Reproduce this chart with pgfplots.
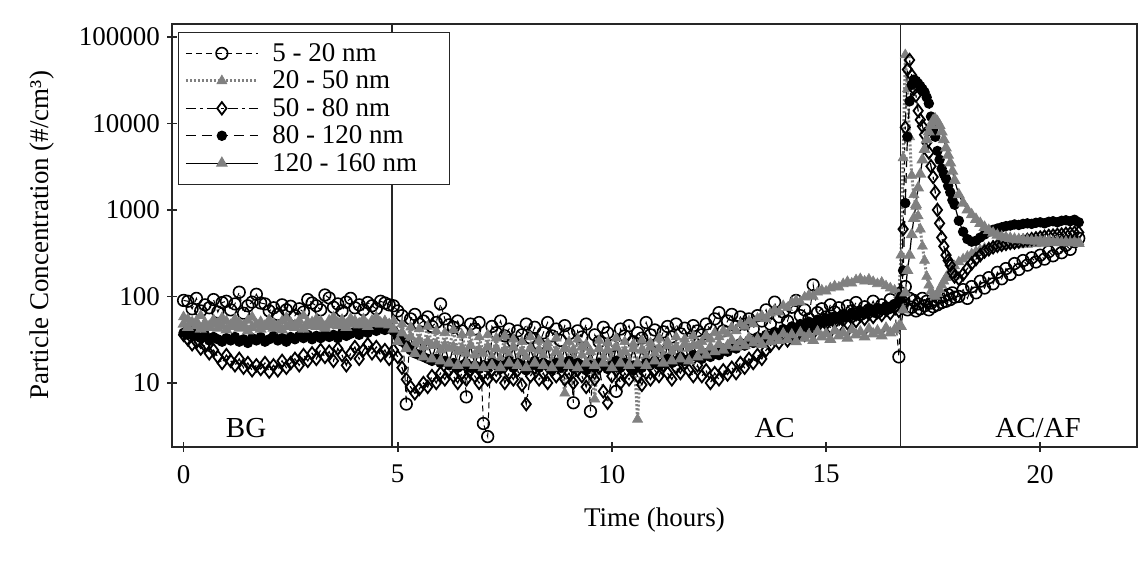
\documentclass[border=0pt]{standalone}
\usepackage{fontspec}
\setmainfont{Liberation Serif}
\usepackage{pgfplots}
\usepackage{pgfplotstable}
\pgfplotsset{compat=1.18}
\definecolor{midgray}{RGB}{128,128,128}

% t = time (h); a..e = size bins 5-20, 20-50, 50-80, 80-120, 120-160 nm
\pgfplotstableread{
t a b c d e
0.0 90 58 36 38 48
0.1 88 55 32 36 44
0.2 72 48 28 39 50
0.3 95 52 30 35 46
0.4 68 60 25 33 42
0.5 80 50 27 36 47
0.6 74 46 22 31 44
0.7 92 54 24 34 49
0.8 66 49 20 32 43
0.9 85 57 17 30 46
1.0 88 52 21 33 41
1.1 70 47 18 31 45
1.2 82 55 16 34 48
1.3 112 50 19 30 43
1.4 64 44 15 32 46
1.5 78 53 17 29 40
1.6 86 58 14 33 44
1.7 106 48 16 31 47
1.8 84 51 14.5 34 42
1.9 82 46 17 30 45
2.0 68 54 13.5 32 48
2.1 74 49 16 35 43
2.2 62 44 14 31 46
2.3 80 52 18 33 41
2.4 70 57 15 30 45
2.5 77 50 17 34 49
2.6 60 47 19 32 44
2.7 72 53 16 35 47
2.8 66 60 21 33 42
2.9 92 51 18 36 46
3.0 84 48 22 32 50
3.1 78 55 19 35 45
3.2 70 52 24 33 48
3.3 104 45 20 37 43
3.4 96 53 23 34 47
3.5 75 58 18 36 51
3.6 82 50 25 33 46
3.7 68 54 21 38 49
3.8 86 48 16 35 44
3.9 95 56 22 37 48
4.0 74 51 26 39 52
4.1 80 49 19 36 47
4.2 70 55 24 40 50
4.3 85 47 28 38 45
4.4 78 53 22 42 49
4.5 72 58 26 40 53
4.6 88 50 21 43 48
4.7 84 52 24 41 51
4.8 80 48 19 44 47
4.9 78 52 24 40 42
5.0 68 36 20 34 30
5.1 60 48 15 30 38
5.2 5.7 30 11 27 25
5.3 55 44 9 24 34
5.4 62 28 7.6 22 22
5.5 48 42 8.5 21 31
5.6 52 26 10 20 20
5.7 58 45 9 19 30
5.8 45 27 12 18 19
5.9 50 40 10 19 28
6.0 82 24 13 17 18
6.1 55 38 11 18 27
6.2 47 25 14 16 17
6.3 44 41 12 17 26
6.4 52 23 10 15 16
6.5 40 36 13 16 25
6.6 6.9 22 11 17 17
6.7 48 38 14 15 27
6.8 42 21 12 16 16
6.9 50 34 10 14.5 24
7.0 3.4 22 13 16 15
7.1 2.4 36 11 15 26
7.2 45 20 14 17 16
7.3 38 33 12 16 25
7.4 52 19 15 14.5 15
7.5 35 35 10 16 24
7.6 42 21 13 18 17
7.7 30 32 11 15 26
7.8 40 18 14 17 16
7.9 36 30 9.5 16 23
8.0 48 20 5.7 14 15
8.1 33 34 12 16 25
8.2 44 19 15 18 17
8.3 28 31 11 15 24
8.4 38 21 13 17 16
8.5 50 29 10 16 26
8.6 35 18 14 14.5 15
8.7 42 33 12 17 23
8.8 31 20 16 15 17
8.9 46 7.6 11 16 25
9.0 37 30 13 18 16
9.1 5.9 19 10 15 24
9.2 40 32 14 17 15
9.3 34 21 12 16 26
9.4 48 28 9 14 17
9.5 4.7 18 13 16 23
9.6 36 6.5 11 15 16
9.7 30 31 15 17 25
9.8 44 20 8 16 17
9.9 38 29 5.9 14.5 24
10.0 27 19 12 16 15
10.1 8 33 14 18 26
10.2 42 21 10 15 17
10.3 35 30 13 17 23
10.4 46 18 11 16 16
10.5 30 28 15 14 25
10.6 38 3.8 12 16 17
10.7 33 31 9.5 15 24
10.8 50 20 13 17 16
10.9 36 29 11 16 26
11.0 41 22 14 18 18
11.1 29 33 12 16 25
11.2 39 21 16 17 17
11.3 45 30 13 19 27
11.4 34 23 11 17 18
11.5 48 34 15 18 26
11.6 37 22 13 20 19
11.7 43 32 17 18 28
11.8 32 25 14 19 18
11.9 46 35 12 21 27
12.0 40 27 16 20 20
12.1 36 30 12 19 24
12.2 48 35 14 22 21
12.3 42 32 10 20 26
12.4 55 38 13 23 23
12.5 65 34 11 21 28
12.6 40 40 14 25 24
12.7 52 37 12.5 23 27
12.8 62 44 15 27 31
12.9 45 40 13 25 26
13.0 58 48 17 29 30
13.1 48 45 15 27 27
13.2 55 52 19 31 33
13.3 42 48 17 29 29
13.4 60 56 21 34 32
13.5 52 60 19 31 28
13.6 70 55 24 36 35
13.7 48 64 27 34 30
13.8 86 70 32 39 34
13.9 58 66 29 36 31
14.0 66 78 35 42 37
14.1 52 74 31 39 32
14.2 75 85 37 45 36
14.3 90 90 34 42 30
14.4 60 86 40 48 38
14.5 70 98 36 45 33
14.6 55 104 42 51 36
14.7 136 100 38 47 31
14.8 65 112 45 54 39
14.9 72 118 41 50 34
15.0 58 115 48 56 37
15.1 80 125 44 52 32
15.2 66 132 50 59 40
15.3 74 128 46 55 35
15.4 60 140 53 62 38
15.5 78 148 49 58 33
15.6 68 142 56 65 41
15.7 85 155 52 60 36
15.8 62 160 60 68 39
15.9 76 150 55 63 34
16.0 70 158 63 71 42
16.1 88 148 58 66 37
16.2 66 140 66 74 40
16.3 80 145 61 69 35
16.4 72 132 70 77 43
16.5 92 125 64 72 38
16.6 78 118 74 82 41
16.7 20 105 68 90 45
16.75 110 300 90 100 45
16.8 85 4000 600 200 70
16.85 130 62000 9000 1200 110
16.9 70 25000 42000 7000 200
16.95 95 7000 54000 18000 300
17.0 75 2500 36000 28000 520
17.05 90 1500 25000 32000 800
17.1 68 1100 21000 31000 1150
17.15 82 850 14000 29000 1800
17.2 72 600 11000 27000 2600
17.25 95 380 9300 25000 3800
17.3 78 260 7400 23000 5000
17.35 88 170 6000 20000 6500
17.4 70 135 4600 17000 8000
17.45 84 115 3200 12000 9500
17.5 76 105 2400 8500 10800
17.55 92 100 1600 7000 11200
17.6 80 108 1000 4800 10500
17.65 98 120 700 3800 9500
17.7 85 135 480 3000 8000
17.75 100 150 380 2600 6500
17.8 88 165 300 2300 5200
17.85 105 180 260 1900 4300
17.9 92 195 230 1600 3500
17.95 110 210 190 1300 2800
18.0 98 225 170 1150 2200
18.1 100 250 160 750 1500
18.2 120 270 180 560 1200
18.3 95 290 210 460 1000
18.4 130 310 240 430 880
18.5 110 330 270 440 780
18.6 150 345 300 480 700
18.7 125 360 330 520 630
18.8 165 370 350 560 580
18.9 140 380 370 590 540
19.0 190 390 385 610 510
19.1 160 380 395 630 490
19.2 210 400 405 650 480
19.3 180 390 415 660 470
19.4 240 410 420 680 460
19.5 205 395 430 670 455
19.6 260 420 440 690 450
19.7 230 400 450 700 445
19.8 280 425 460 690 440
19.9 250 405 470 710 435
20.0 300 430 480 720 440
20.1 270 410 490 700 430
20.2 330 440 500 730 435
20.3 295 415 505 740 425
20.4 360 445 515 720 430
20.5 320 420 520 750 420
20.6 390 450 530 760 425
20.7 350 425 535 740 415
20.8 430 455 545 770 420
20.9 470 430 550 720 410
}\conc

\begin{document}
\begin{tikzpicture}
\useasboundingbox (0,0) rectangle (572.5pt,290.5pt);
\begin{axis}[
    at={(86pt,67pt)}, anchor=south west,
    scale only axis,
    width=482.5pt, height=211.5pt,
    ymode=log,
    xmin=-0.27, xmax=22.26,
    ymin=1.82, ymax=141000,
    xtick={0,5,10,15,20},
    ytick={10,100,1000,10000,100000},
    yticklabels={10,100,1000,10000,100000},
    yminorticks=false,
    tick pos=left,
    tick align=center,
    major tick length=5pt,
    axis line style={black!85, line width=1pt},
    every tick/.style={black!85, line width=0.8pt},
    tick label style={font=\fontsize{13.5}{14}\selectfont},
    xticklabel style={yshift=-3pt},
    /pgf/number format/assume math mode=true,
    xlabel={Time (hours)},
    ylabel={Particle Concentration (\#/cm³)},
    label style={font=\fontsize{13.5}{14}\selectfont},
    xlabel style={at={(axis description cs:0.5,-0.1726)}, anchor=center},
    ylabel style={at={(axis description cs:-0.1347,0.5)}, anchor=center},
    legend style={at={(axis description cs:0.0062,0.981)}, anchor=north west,
        draw=black!85, font=\fontsize{13.5}{14}\selectfont,
        inner xsep=3pt, inner ysep=4pt, row sep=0.75pt, column sep=5pt,
        nodes={inner sep=1.5pt, text depth=0.1em}, cells={anchor=west}},
    legend image code/.code={\draw[mark repeat=2,mark phase=2] plot coordinates {(0pt,0pt) (18pt,0pt) (36pt,0pt)};},
]
\addplot[black, line width=0.5pt, dash pattern=on 3pt off 2pt, mark=o, mark size=2.9pt,
    mark options={solid, line width=0.8pt}] table[x=t, y=a] {\conc};
\addlegendentry{\makebox[84pt][l]{5 - 20 nm}}
\addplot[midgray, line width=1.5pt, dash pattern=on 1pt off 1pt, mark=triangle*, mark size=2.9pt,
    mark options={solid, line width=0.3pt, fill=midgray}] table[x=t, y=b] {\conc};
\addlegendentry{\makebox[84pt][l]{20 - 50 nm}}
\addplot[black, line width=0.6pt, dash pattern=on 5pt off 2pt on 1.5pt off 2pt, mark=diamond, mark size=3.1pt,
    mark options={solid, line width=0.9pt}] table[x=t, y=c] {\conc};
\addlegendentry{\makebox[84pt][l]{50 - 80 nm}}
\addplot[black, line width=0.6pt, dash pattern=on 5pt off 3pt, mark=*, mark size=2.3pt,
    mark options={solid}] table[x=t, y=d] {\conc};
\addlegendentry{\makebox[84pt][l]{80 - 120 nm}}
\addplot[black, line width=0.6pt, mark=triangle*, mark size=2.9pt,
    mark options={solid, draw=midgray, fill=midgray}] table[x=t, y=e] {\conc};
\addlegendentry{\makebox[84pt][l]{120 - 160 nm}}

% period boundaries
\draw[black!85, line width=0.9pt] (axis cs:4.86,1.82) -- (axis cs:4.86,141000);
\draw[black!85, line width=0.9pt] (axis cs:16.74,1.82) -- (axis cs:16.74,141000);
\node[font=\fontsize{14.5}{15}\selectfont] at (axis cs:1.46,3.0) {BG};
\node[font=\fontsize{14.5}{15}\selectfont] at (axis cs:13.8,3.0) {AC};
\node[font=\fontsize{14.5}{15}\selectfont] at (axis cs:19.95,3.0) {AC/AF};
\end{axis}
\end{tikzpicture}
\end{document}
